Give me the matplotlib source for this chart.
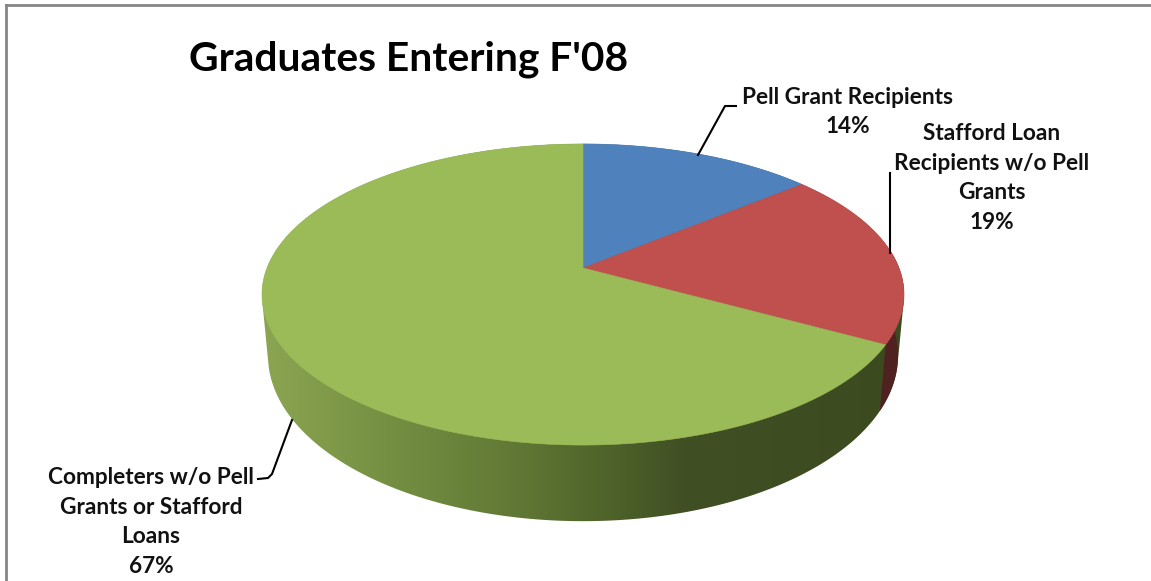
import numpy as np
import matplotlib
matplotlib.use("Agg")
import matplotlib.pyplot as plt
from matplotlib.colors import LinearSegmentedColormap
from matplotlib.patches import Polygon

labels = ["Pell Grant Recipients\n14%",
          "Stafford Loan\nRecipients w/o Pell\nGrants\n19%",
          "Completers w/o Pell\nGrants or Stafford\nLoans\n67%"]
shares = [14, 19, 67]
colors = ["#4f81bd", "#c0504d", "#9bbb59"]

W, H = 1151, 581
plt.rcParams["font.family"] = ["Lato", "DejaVu Sans"]


def top_point(theta):
    # perspective circle, theta clockwise from 12 o'clock
    w = 1 + 0.176 * np.cos(theta)
    return 583 + 316 * np.sin(theta) / w, 268 - 145.9 * np.cos(theta) / w


def bottom_point(theta):
    x, y = top_point(theta)
    return 583 + (x - 583) * 315 / 321, 355 + (y - 294) * 165 / 150


def hull(points):
    pts = sorted(set(map(tuple, points)))
    def half(seq):
        out = []
        for p in seq:
            while len(out) > 1 and (out[-1][0] - out[-2][0]) * (p[1] - out[-2][1]) - (out[-1][1] - out[-2][1]) * (p[0] - out[-2][0]) <= 0:
                out.pop()
            out.append(p)
        return out[:-1]
    return half(pts) + half(pts[::-1])


fig = plt.figure(figsize=(W / 100, H / 100), dpi=100)
ax = fig.add_axes([0, 0, 1, 1])

edges = np.radians(np.cumsum([0] + shares) * 3.6)
circle = np.linspace(0, 2 * np.pi, 400)

# side wall, shaded left to right
outline = hull(np.column_stack(top_point(circle)).tolist() + np.column_stack(bottom_point(circle)).tolist())
wall_cmap = LinearSegmentedColormap.from_list("wall", [
    (0.0, "#8ba552"), (0.22, "#728d40"), (0.38, "#627a36"),
    (0.55, "#4d6129"), (0.66, "#404f24"), (1.0, "#3c4a20")])
img = ax.imshow(np.linspace(0, 1, 256).reshape(1, -1), cmap=wall_cmap, aspect="auto",
                extent=(262, 905, 540, 140), zorder=1)
img.set_clip_path(Polygon(outline, closed=True, transform=ax.transData))

# small piece of the red slice that shows on the wall
seam = edges[2]
t = np.linspace(seam, np.radians(82), 40)
xt, yt = top_point(t)
xb, yb = bottom_point(t[::-1])
ax.add_patch(Polygon(np.column_stack([np.r_[xt, xb], np.r_[yt, yb]]), closed=True,
                     facecolor="#4f2120", edgecolor="none", zorder=2))

# top face
for i in range(len(shares)):
    t = np.linspace(edges[i], edges[i + 1], 200)
    x, y = top_point(t)
    ax.add_patch(Polygon(np.column_stack([np.r_[583, x], np.r_[268, y]]), closed=True,
                         facecolor=colors[i], edgecolor=colors[i], linewidth=0.4, zorder=3))

# leader lines
ax.plot([698, 725, 736], [155, 106, 106], color="black", lw=1.5, zorder=4)
ax.plot([890.5, 890.5], [173, 253], color="black", lw=1.5, zorder=4)
ax.plot([292, 272, 268, 258], [420, 474, 478, 479], color="black", lw=1.5, zorder=4)

ax.text(847.5, 112, labels[0], ha="center", va="center", fontsize=16.3, fontweight="bold",
        color="#111111", linespacing=1.5, zorder=5)
ax.text(992, 178, labels[1], ha="center", va="center", fontsize=16.3, fontweight="bold",
        color="#111111", linespacing=1.5, zorder=5)
ax.text(151, 522, labels[2], ha="center", va="center", fontsize=16.3, fontweight="bold",
        color="#111111", linespacing=1.5, zorder=5)
ax.text(408.5, 59, "Graduates Entering F'08", ha="center", va="center", fontsize=29.3,
        fontweight="bold", color="black", zorder=5)

# chart frame, cropped on the right and bottom
ax.plot([6, 6], [H, 5], color="#868686", lw=2, zorder=5)
ax.plot([6, W], [5, 5], color="#868686", lw=2, zorder=5)

ax.set_xlim(0, W)
ax.set_ylim(H, 0)
ax.axis("off")
fig.savefig("out.png", dpi=100, facecolor="white")
